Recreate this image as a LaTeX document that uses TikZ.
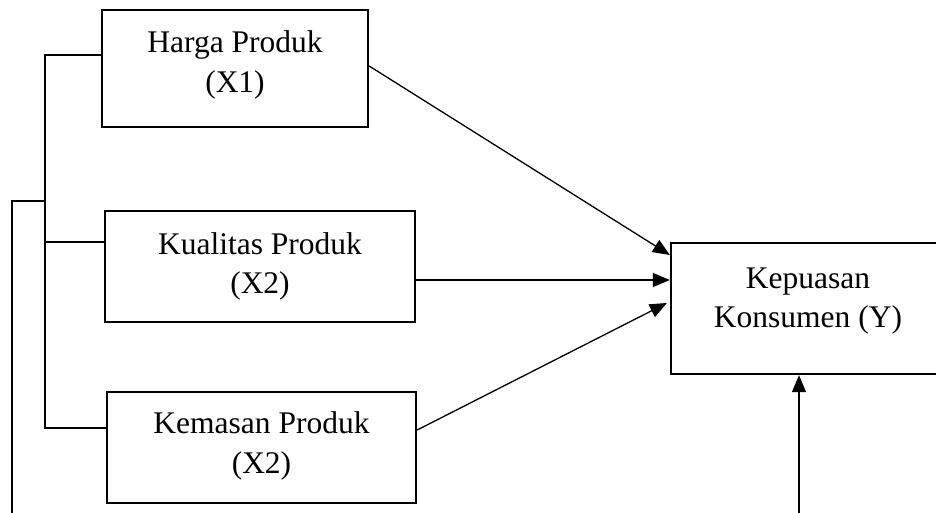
\documentclass[tikz,border=0pt]{standalone}
\usepackage{fontspec}
\setmainfont{Liberation Serif}
\usetikzlibrary{arrows.meta}
\begin{document}
\begin{tikzpicture}[x=1pt,y=-1pt,
  box/.style={draw,line width=2.3pt,inner sep=0pt},
  lbl/.style={align=center,inner sep=0pt,font=\fontsize{31.5}{39.5}\selectfont},
  conn/.style={line width=1.3pt},
  arr/.style={line width=1.3pt,-{Triangle[length=17pt,width=14pt]}}]
\useasboundingbox (0,0) rectangle (936,512);
\clip (0,0) rectangle (936,512);
\fill[white] (0,0) rectangle (936,512);
% boxes
\node[box,minimum width=266pt,minimum height=117pt] (x1) at (235,68.5) {};
\node[lbl] (x1t) at (235,65) {Harga Produk\\(X1)};
\node[box,minimum width=310pt,minimum height=111pt] (x2) at (260,266.5) {};
\node[lbl] (x2t) at (260,266.5) {Kualitas Produk\\(X2)};
\node[box,minimum width=309pt,minimum height=111pt] (x3) at (261.5,447.5) {};
\node[lbl] (x3t) at (261.5,446) {Kemasan Produk\\(X2)};
\node[box,minimum width=274pt,minimum height=131pt] (y) at (808,308.5) {};
\node[lbl] (yt) at (808,301) {Kepuasan\\Konsumen (Y)};
% arrows into Y
\draw[arr] ([yshift=2.5pt]x1.east) -- ([yshift=53.5pt]y.west);
\draw[arr] ([yshift=-13.5pt]x2.east) -- ([yshift=-13.5pt]x2.east -| y.west);
\draw[arr] ([yshift=17.5pt]x3.east) -- ([xshift=-3pt,yshift=5.5pt]y.west);
\coordinate (b) at (799,520);
\draw[arr] (b) -- (b |- y.south);
% left bracket
\coordinate (jt) at (45,55);
\coordinate (jm) at (45,242);
\coordinate (jb) at (45,428);
\draw[conn] (jt -| x1.west) -- (jt) -- (jb) -- (jb -| x3.west);
\draw[conn] (jm) -- (jm -| x2.west);
\coordinate (o1) at (45,201);
\coordinate (o2) at (12,201);
\coordinate (o3) at (12,520);
\draw[conn] (o1) -- (o2) -- (o3);
\end{tikzpicture}
\end{document}
